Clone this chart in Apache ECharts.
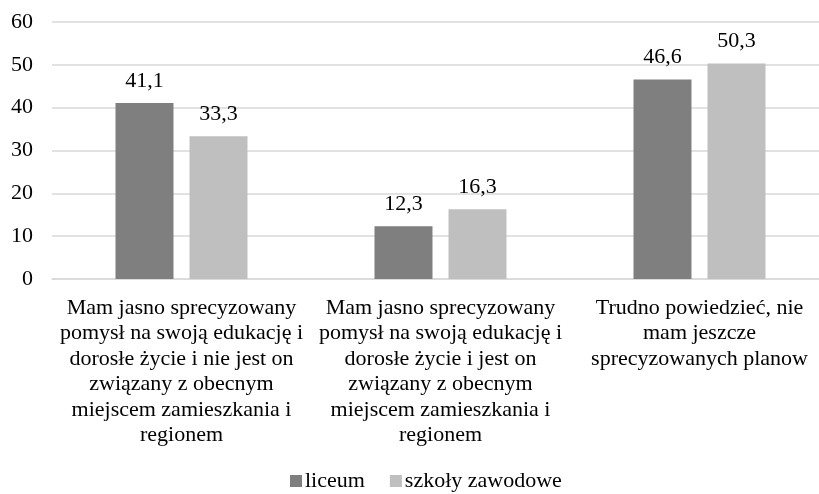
<!DOCTYPE html>
<html>
<head>
<meta charset="utf-8">
<script src="https://cdn.jsdelivr.net/npm/echarts@6/dist/echarts.min.js"></script>
<style>
html,body{margin:0;padding:0;background:#fff;}
#chart{width:819px;height:494px;}
</style>
</head>
<body>
<div id="chart"></div>
<script>
const categories = [
  "Mam jasno sprecyzowany\npomysł na swoją edukację i\ndorosłe życie i nie jest on\nzwiązany z obecnym\nmiejscem zamieszkania i\nregionem",
  "Mam jasno sprecyzowany\npomysł na swoją edukację i\ndorosłe życie i jest on\nzwiązany z obecnym\nmiejscem zamieszkania i\nregionem",
  "Trudno powiedzieć, nie\nmam jeszcze\nsprecyzowanych planow"
];
const seriesNames = ["liceum", "szkoły zawodowe"];
const liceum = [41.1, 12.3, 46.6];
const zawodowe = [33.3, 16.3, 50.3];
const yTicks = [0, 10, 20, 30, 40, 50, 60];

const font = "'Liberation Serif', 'Times New Roman', serif";
const chart = echarts.init(document.getElementById('chart'));
const labelCfg = {
  show: true, position: 'top', distance: 11,
  fontFamily: font, fontSize: 22, color: '#000',
  formatter: p => p.value.toFixed(1).replace('.', ',')
};
chart.setOption({
  animation: false,
  textStyle: { fontFamily: font },
  grid: { left: 52, width: 777, top: 22, height: 257, containLabel: false, outerBoundsMode: 'none' },
  legend: {
    top: 470, left: 290, padding: 0,
    itemWidth: 12, itemHeight: 12, itemGap: 25,
    icon: 'rect',
    textStyle: { fontFamily: font, fontSize: 22, color: '#000', padding: [0,0,0,-2] },
    data: seriesNames
  },
  xAxis: {
    type: 'category',
    data: categories,
    axisLine: { lineStyle: { color: '#d9d9d9', width: 1.5 } },
    axisTick: { show: false },
    axisLabel: {
      interval: 0, margin: 16, color: '#000',
      fontFamily: font, fontSize: 22, lineHeight: 25.5, align: 'center'
    }
  },
  yAxis: {
    type: 'value', min: yTicks[0], max: yTicks[yTicks.length - 1], interval: 10,
    axisLine: { show: false }, axisTick: { show: false },
    splitLine: { lineStyle: { color: '#d9d9d9', width: 1.5 } },
    axisLabel: { margin: 19, color: '#000', fontFamily: font, fontSize: 22 }
  },
  series: [
    { name: seriesNames[0], type: 'bar', data: liceum, barWidth: 58, barGap: '27.6%',
      itemStyle: { color: '#7f7f7f' }, label: labelCfg },
    { name: seriesNames[1], type: 'bar', data: zawodowe, barWidth: 58, barGap: '27.6%',
      itemStyle: { color: '#bfbfbf' }, label: labelCfg }
  ]
});
</script>
</body>
</html>
